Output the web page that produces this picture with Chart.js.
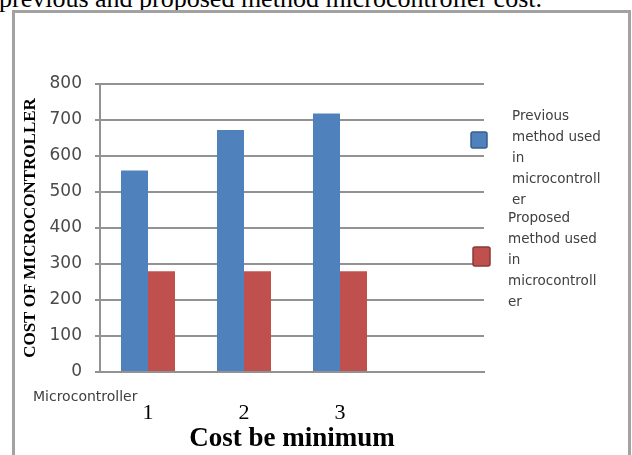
<!DOCTYPE html>
<html>
<head>
<meta charset="utf-8">
<script src="https://cdn.jsdelivr.net/npm/chart.js@4/dist/chart.umd.min.js"></script>
<style>
  html, body { margin: 0; padding: 0; background: #fff; overflow: hidden; }
  #wrap { position: relative; width: 632px; height: 455px; overflow: hidden; }
  #caption { position: absolute; left: -1px; top: -14px; font: 26px "Liberation Serif", "Times New Roman", serif; line-height: 26px; color: #000; white-space: nowrap; }
  #frame { position: absolute; left: 12px; top: 10px; width: 613px; height: 470px; border: 3px solid #a2a2a2; box-sizing: content-box; }
  canvas { position: absolute; left: 0; top: 0; }
</style>
</head>
<body>
<div id="wrap">
  <div id="caption">previous and proposed method microcontroller cost.</div>
  <div id="frame"></div>
  <canvas id="c" width="632" height="455"></canvas>
</div>
<script>
const categories = ['1', '2', '3', ''];
const previousCost = [560, 672, 718, null];
const proposedCost = [280, 280, 280, null];
const seriesNames = ['Previous method used in microcontroller', 'Proposed method used in microcontroller'];
const legendLines = [
  ['Previous', 'method used', 'in', 'microcontroll', 'er'],
  ['Proposed', 'method used', 'in', 'microcontroll', 'er']
];
const yTitle = 'COST OF MICROCONTROLLER';
const xTitle = 'Cost be minimum';
const xPrefix = 'Microcontroller';

const blue = '#4F81BD', red = '#C0504D';
const gridColor = '#929292';

const overlay = {
  id: 'overlay',
  afterDraw(chart) {
    const ctx = chart.ctx;
    ctx.save();
    ctx.fillStyle = '#404040';
    ctx.font = '14px "DejaVu Sans", sans-serif';
    ctx.textBaseline = 'middle';
    ctx.textAlign = 'left';
    ctx.fillText(xPrefix, 33, 397);
    // legend
    const keys = [
      {x: 471, y: 132, w: 16, h: 16, fill: blue, stroke: '#385D8A', tx: 512, ty: 116},
      {x: 473, y: 247, w: 17, h: 19, fill: red, stroke: '#8C3836', tx: 508, ty: 218}
    ];
    chart.data.datasets.forEach((ds, i) => {
      const k = keys[i];
      ctx.fillStyle = k.fill;
      ctx.strokeStyle = k.stroke;
      ctx.lineWidth = 1.5;
      ctx.beginPath();
      ctx.roundRect(k.x, k.y, k.w, k.h, 2);
      ctx.fill();
      ctx.stroke();
      ctx.fillStyle = '#404040';
      ctx.font = '13.5px "DejaVu Sans", sans-serif';
      legendLines[i].forEach((ln, j) => ctx.fillText(ln, k.tx, k.ty + j * 21));
    });
    ctx.restore();
  }
};

new Chart(document.getElementById('c'), {
  type: 'bar',
  data: {
    labels: categories,
    datasets: [
      {label: seriesNames[0], data: previousCost, backgroundColor: blue, borderWidth: 0},
      {label: seriesNames[1], data: proposedCost, backgroundColor: red, borderWidth: 0}
    ]
  },
  options: {
    responsive: false,
    animation: false,
    devicePixelRatio: 1,
    categoryPercentage: 0.5625,
    barPercentage: 1,
    layout: {padding: {left: 0, right: 148, top: 84, bottom: 0}},
    plugins: {legend: {display: false}, tooltip: {enabled: false}},
    scales: {
      x: {
        grid: {display: false, drawTicks: false},
        border: {display: true, color: gridColor, width: 2},
        ticks: {color: '#000', font: {family: '"Liberation Serif", serif', size: 22}, padding: 28},
        title: {display: true, text: xTitle, color: '#000', font: {family: '"Liberation Serif", serif', size: 27, weight: 'bold'}, padding: {top: 0, bottom: 0}},
        afterFit(s) { s.height = 83; }
      },
      y: {
        min: 0, max: 800,
        ticks: {stepSize: 100, color: '#4a4a4a', font: {family: '"DejaVu Sans", sans-serif', size: 17}, padding: 13},
        grid: {color: gridColor, lineWidth: 2, tickLength: 5, drawTicks: true},
        border: {display: true, color: gridColor, width: 2},
        title: {display: true, text: yTitle, color: '#000', font: {family: '"Liberation Serif", serif', size: 17, weight: 'bold'}, padding: {top: 20, bottom: 0}},
        afterFit(s) { s.width = 100; }
      }
    }
  },
  plugins: [overlay]
});
</script>
</body>
</html>
